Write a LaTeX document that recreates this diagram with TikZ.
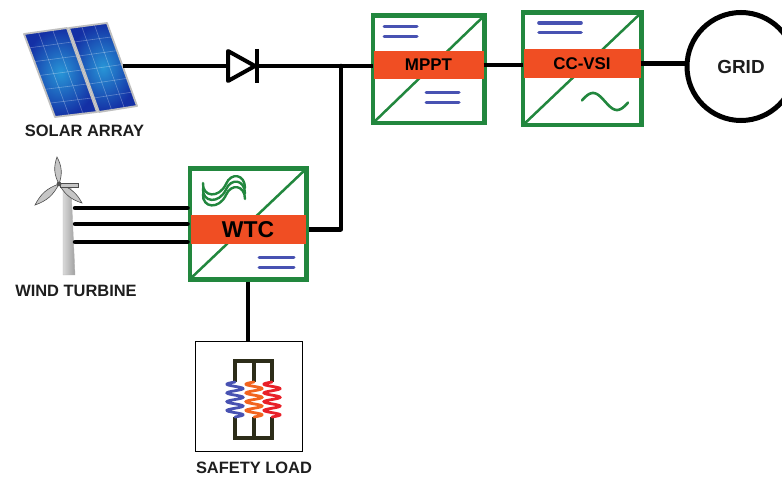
\documentclass[tikz,border=0pt]{standalone}
\usepackage{fontspec}
\setmainfont{Liberation Sans}
\usetikzlibrary{calc}
\definecolor{convgreen}{RGB}{34,135,62}
\definecolor{bandorange}{RGB}{240,78,35}
\definecolor{dcblue}{RGB}{72,82,178}
\definecolor{framedark}{RGB}{45,45,25}
\definecolor{coilred}{RGB}{232,32,40}
\definecolor{coilorange}{RGB}{242,100,30}
\definecolor{pvdark}{RGB}{20,48,165}
\definecolor{pvlight}{RGB}{40,150,215}
\definecolor{labeltext}{RGB}{30,30,30}
\begin{document}
\begin{tikzpicture}[x=1bp,y=-1bp,
  wire/.style={line width=4.5bp, black},
  conv/.style={draw=convgreen, line width=3bp, fill=white, inner sep=0pt},
  convdiag/.style={convgreen, line width=2.5bp},
  band/.style={fill=bandorange, inner sep=0pt, text=black,
    font=\bfseries\fontsize{17}{19}\selectfont},
  dcbar/.style={dcblue, line width=3bp, line cap=round},
  lbl/.style={text=labeltext, font=\bfseries\fontsize{16.5}{18}\selectfont},
  pvgrid/.style={white, opacity=0.3, line width=0.6bp},
  pvframe/.style={draw=gray!50, line width=1.8bp, line join=round},
  blade/.style={fill=gray!45, draw=gray!60!black, line width=0.6bp},
  heatframe/.style={framedark, line width=4bp},
  coil/.style={line width=2.8bp, line cap=round},
  windwave/.style={convgreen, line width=2.4bp, line cap=round}]
\useasboundingbox (0,0) rectangle (782,477);
\clip (0,0) rectangle (782,477);

% ---------- solar array ----------
\coordinate (pa1) at (24,34); \coordinate (pa2) at (67,28);
\coordinate (pa3) at (97,112); \coordinate (pa4) at (55,117);
\coordinate (pb1) at (69,28); \coordinate (pb2) at (107,23);
\coordinate (pb3) at (137,106); \coordinate (pb4) at (99,112);
\foreach \p in {pa,pb} {
  \shade[inner color=pvlight, outer color=pvdark]
    (\p1) -- (\p2) -- (\p3) -- (\p4) -- cycle;
  \foreach \t in {0.333,0.667}
    \draw[pvgrid] ($(\p1)!\t!(\p2)$) -- ($(\p4)!\t!(\p3)$);
  \foreach \t in {0.167,0.333,0.5,0.667,0.833}
    \draw[pvgrid] ($(\p1)!\t!(\p4)$) -- ($(\p2)!\t!(\p3)$);
  \draw[pvframe] (\p1) -- (\p2) -- (\p3) -- (\p4) -- cycle;
}
\coordinate (pv) at (123,66);
\node[lbl] (pvlabel) at (84.5,131) {SOLAR ARRAY};

% ---------- wind turbine ----------
\shade[left color=gray!30, right color=gray!75, draw=gray!60]
  (63,187) -- (71,187) -- (75,275) -- (63,275) -- cycle;
\coordinate (hub) at (59,184);
\filldraw[blade] (hub) to[bend left=24] (57,157) to[bend left=24] (hub);
\filldraw[blade] (hub) to[bend left=22] (35,205) to[bend left=22] (hub);
\filldraw[blade] (hub) to[bend left=22] (82,203) to[bend left=22] (hub);
\filldraw[fill=gray!45, draw=gray!60!black, line width=0.6bp]
  (60,183) rectangle (78,187.5);
\fill[gray!65!black] (hub) circle (2.4bp);
\node[lbl] (wtlabel) at (76,291) {WIND TURBINE};
\coordinate (wt1) at (75,208);
\coordinate (wt2) at (75,224);
\coordinate (wt3) at (75,242);

% ---------- converters ----------
% MPPT
\node[conv, minimum width=110bp, minimum height=106bp] (mppt) at (428.5,69.5) {};
\draw[convdiag] (mppt.south west) -- (mppt.north east);
\node[band, minimum width=110bp, minimum height=28bp] (mpptband) at (428.5,65) {MPPT};
\draw[dcbar] (384,27) -- (417,27) (384,37) -- (417,37);
\draw[dcbar] (426,93) -- (459,93) (426,103) -- (459,103);
\draw[convgreen, line width=3bp] (mppt.south west) rectangle (mppt.north east);

% CC-VSI
\node[conv, minimum width=117bp, minimum height=111bp] (ccvsi) at (582,69) {};
\draw[convdiag] (ccvsi.south west) -- (ccvsi.north east);
\node[band, minimum width=117bp, minimum height=29bp] (ccband) at (582,63.5) {CC-VSI};
\draw[dcbar, line width=3.6bp] (539,23) -- (581,23) (539,32.5) -- (581,32.5);
\draw[windwave, line width=2.6bp] plot[domain=0:46, samples=60, smooth]
  ({582+\x}, {101.5 - 8.5*sin(7.5*(\x+1))});
\draw[convgreen, line width=3bp] (ccvsi.south west) rectangle (ccvsi.north east);

% WTC
\node[conv, minimum width=115bp, minimum height=109bp] (wtc) at (248,224) {};
\draw[convdiag] (wtc.south west) -- (wtc.north east);
\node[band, minimum width=115bp, minimum height=29bp,
  font=\bfseries\fontsize{23}{25}\selectfont] (wtcband) at (248,229.5) {WTC};
\foreach \k in {0,1,2}
  \draw[windwave, shift={(0,5.5*\k)}]
    (203,183) .. controls (202,197) and (219,199) .. (226,184)
    .. controls (231,172) and (245,174) .. (245,188);
\draw[dcbar] (259,258) -- (294,258) (259,268) -- (294,268);
\draw[convgreen, line width=3bp] (wtc.south west) rectangle (wtc.north east);

% ---------- grid ----------
\node[circle, draw, line width=5bp, minimum size=108bp, inner sep=0pt,
  font=\bfseries\fontsize{19}{21}\selectfont, text=labeltext] (grid) at (741,66.5) {GRID};

% ---------- diode ----------
\coordinate (dA) at (228,66);
\coordinate (dK) at (257,66);
\draw[black, line width=4bp, line join=round] (228,51) -- (255,66) -- (228,81) -- cycle;
\draw[black, line width=4.5bp] (257,49) -- (257,83);

% ---------- safety load ----------
\node[draw=black, line width=1.3bp, minimum width=107bp, minimum height=110bp,
  inner sep=0pt] (load) at (249,396.5) {};
\draw[heatframe] (235,382) -- (235,361) -- (272,361) -- (272,382) (254,361) -- (254,382);
\draw[heatframe] (235,417) -- (235,438) -- (272,438) -- (272,417) (254,417) -- (254,438);
\draw[coil, dcblue] plot[domain=0:35, samples=90, smooth]
  ({235 - 8*sin(\x*41.14)}, {382+\x});
\draw[coil, coilorange] plot[domain=0:35, samples=90, smooth]
  ({254 - 8*sin(\x*41.14)}, {382+\x});
\draw[coil, coilred] plot[domain=0:35, samples=90, smooth]
  ({272 - 8*sin(\x*41.14)}, {382+\x});
\node[lbl] (loadlabel) at (254,467.5) {SAFETY LOAD};

% ---------- wiring ----------
\coordinate (jn) at (341,66);
\coordinate (wtcout) at (wtc.east |- wtcband.east);
\draw[wire] (pv) -- (dA);
\draw[wire] (dK) -- (dK -| mpptband.west);
\draw[wire, line cap=round] (jn |- wtcout) -- (jn);
\draw[wire] (jn |- wtcout) -- ([xshift=1.5bp]wtcout);
\draw[wire] (mpptband.east) -- (mpptband.east -| ccband.west);
\draw[wire] (ccband.east) -- (ccband.east -| grid.west);
\draw[wire] ([yshift=-1.5bp]wtc.south) -- (wtc.south |- load.north);
\foreach \w in {wt1,wt2,wt3}
  \draw[wire, line cap=round] (\w) -- ([xshift=-1.5bp]\w -| wtc.west);
\end{tikzpicture}
\end{document}
